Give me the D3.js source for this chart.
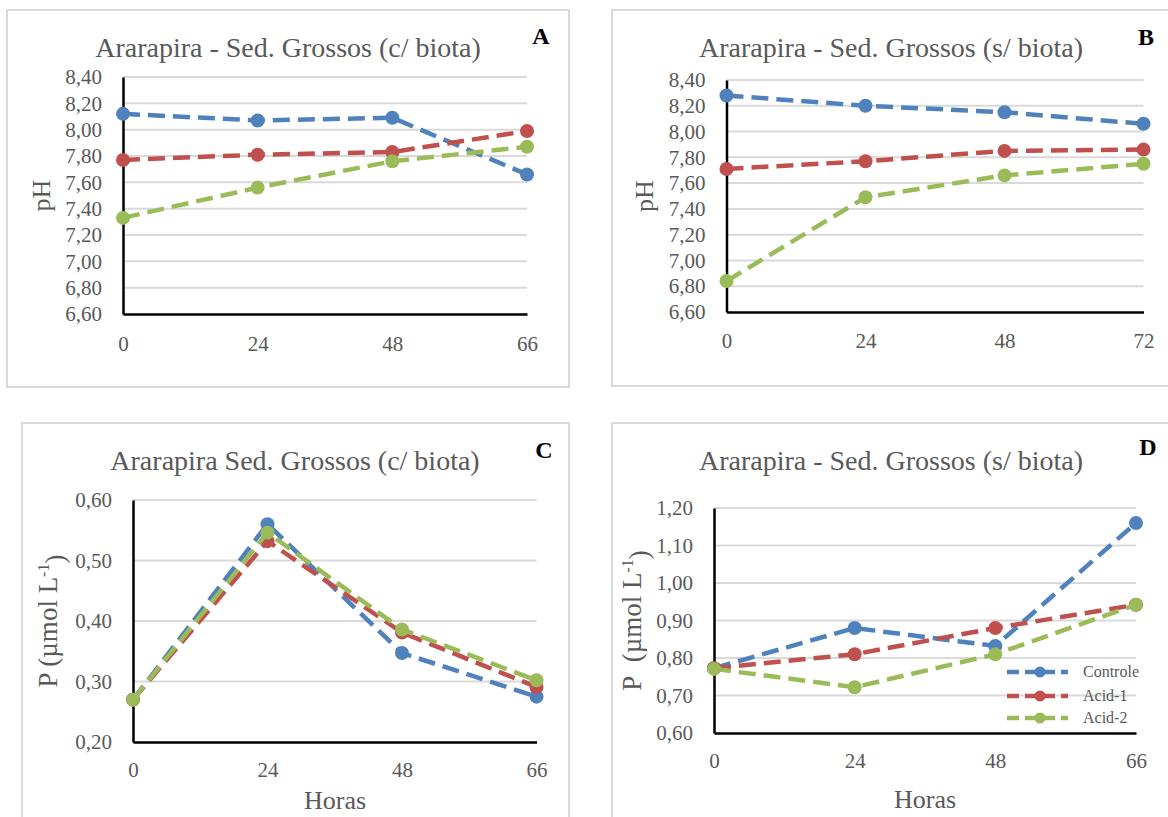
<!DOCTYPE html>
<html>
<head>
<meta charset="utf-8">
<script src="https://cdn.jsdelivr.net/npm/d3@7"></script>
<style>
  html, body { margin: 0; padding: 0; background: #fff; }
  svg { display: block; }
  text { font-family: "Liberation Serif", "Times New Roman", serif; }
</style>
</head>
<body>
<svg id="chart" width="1168" height="817"></svg>
<script>
// ---- data ----
const seriesNames = ["Controle", "Acid-1", "Acid-2"];
const seriesColors = ["#4F81BD", "#C0504D", "#9BBB59"];

// pH, with biota (A)
const hoursA = ["0", "24", "48", "66"];
const controleA = [8.12, 8.07, 8.09, 7.66];
const acid1A = [7.77, 7.81, 7.83, 7.99];
const acid2A = [7.33, 7.56, 7.76, 7.87];

// pH, without biota (B)
const hoursB = ["0", "24", "48", "72"];
const controleB = [8.28, 8.20, 8.15, 8.06];
const acid1B = [7.71, 7.77, 7.85, 7.86];
const acid2B = [6.84, 7.49, 7.66, 7.75];

// P, with biota (C)
const hoursC = ["0", "24", "48", "66"];
const controleC = [0.27, 0.56, 0.347, 0.275];
const acid1C = [0.27, 0.532, 0.381, 0.291];
const acid2C = [0.27, 0.546, 0.386, 0.302];

// P, without biota (D)
const hoursD = ["0", "24", "48", "66"];
const controleD = [0.773, 0.88, 0.832, 1.16];
const acid1D = [0.773, 0.81, 0.88, 0.942];
const acid2D = [0.771, 0.722, 0.81, 0.942];

// y ticks
const ticksPH = [6.6, 6.8, 7.0, 7.2, 7.4, 7.6, 7.8, 8.0, 8.2, 8.4];
const ticksPC = [0.2, 0.3, 0.4, 0.5, 0.6];
const ticksPD = [0.6, 0.7, 0.8, 0.9, 1.0, 1.1, 1.2];

const titles = [
  "Ararapira - Sed. Grossos (c/ biota)",
  "Ararapira - Sed. Grossos (s/ biota)",
  "Ararapira Sed. Grossos (c/ biota)",
  "Ararapira - Sed. Grossos (s/ biota)"
];
const letters = ["A", "B", "C", "D"];

// ---- layout ----
const panels = [
  { frame: [7, 10, 562, 377], plot: [123, 77, 527, 314], hours: hoursA,
    series: [controleA, acid1A, acid2A], ticks: ticksPH, yLabel: "pH",
    title: titles[0], titleX: 288, titleY: 57, letter: letters[0], letterX: 541, letterY: 44,
    yLabelX: 41, xTickY: 351, horas: false, legend: false },
  { frame: [612, 10, 560, 376], plot: [726.5, 80, 1143.5, 312], hours: hoursB,
    series: [controleB, acid1B, acid2B], ticks: ticksPH, yLabel: "pH",
    title: titles[1], titleX: 891, titleY: 57, letter: letters[1], letterX: 1146, letterY: 45,
    yLabelX: 644, xTickY: 348, horas: false, legend: false },
  { frame: [22, 423, 547, 400], plot: [133, 500, 536.5, 742], hours: hoursC,
    series: [controleC, acid1C, acid2C], ticks: ticksPC, yLabel: "P",
    title: titles[2], titleX: 295, titleY: 470, letter: letters[2], letterX: 544, letterY: 458,
    yLabelX: 48, xTickY: 777, horas: true, horasX: 335, horasY: 809, legend: false },
  { frame: [612, 423, 560, 400], plot: [714, 508, 1136, 733], hours: hoursD,
    series: [controleD, acid1D, acid2D], ticks: ticksPD, yLabel: "P",
    title: titles[3], titleX: 891, titleY: 470, letter: letters[3], letterX: 1148, letterY: 455,
    yLabelX: 632, xTickY: 768, horas: true, horasX: 925, horasY: 808, legend: true }
];

const svg = d3.select("#chart");
const grey = "#595959";
const commaFmt = v => d3.format(".2f")(v).replace(".", ",");

panels.forEach(p => {
  const g = svg.append("g");
  const [fx, fy, fw, fh] = p.frame;
  g.append("rect").attr("x", fx).attr("y", fy).attr("width", fw).attr("height", fh)
    .attr("fill", "#fff").attr("stroke", "#d9d9d9").attr("stroke-width", 2);

  const [x0, y0, x1, y1] = p.plot;
  const x = d3.scalePoint().domain(p.hours).range([x0, x1]).padding(0);
  const y = d3.scaleLinear().domain([p.ticks[0], p.ticks[p.ticks.length - 1]]).range([y1, y0]);

  // gridlines
  g.append("g").selectAll("line").data(p.ticks.slice(1)).join("line")
    .attr("x1", x0).attr("x2", x1)
    .attr("y1", d => y(d)).attr("y2", d => y(d))
    .attr("stroke", "#d9d9d9").attr("stroke-width", 2);

  // y axis labels
  const yAxis = d3.axisLeft(y).tickValues(p.ticks).tickFormat(commaFmt).tickSize(0).tickPadding(21);
  const ya = g.append("g").attr("transform", `translate(${x0},0)`).call(yAxis);
  ya.select(".domain").attr("stroke", "#000").attr("stroke-width", 2.5);
  ya.selectAll("text").attr("fill", grey).style("font-size", "21px")
    .style("font-family", "'Liberation Serif', serif");

  // x axis labels
  const xAxis = d3.axisBottom(x).tickSize(0).tickPadding(0);
  const xa = g.append("g").attr("transform", `translate(0,${y1})`).call(xAxis);
  xa.select(".domain").attr("stroke", "#000").attr("stroke-width", 2.5);
  xa.selectAll("text").attr("fill", grey).style("font-size", "21px")
    .style("font-family", "'Liberation Serif', serif")
    .attr("dy", null).attr("y", p.xTickY - y1);

  // title and panel letter
  g.append("text").attr("x", p.titleX).attr("y", p.titleY).attr("text-anchor", "middle")
    .attr("fill", grey).style("font-size", "28px").text(p.title);
  g.append("text").attr("x", p.letterX).attr("y", p.letterY).attr("text-anchor", "middle")
    .attr("fill", "#000").style("font-size", "24px").style("font-weight", "bold").text(p.letter);

  // y axis title
  const yt = g.append("text")
    .attr("transform", `translate(${p.yLabelX},${(y0 + y1) / 2}) rotate(-90)`)
    .attr("text-anchor", "middle").attr("dy", "0.35em")
    .attr("fill", grey);
  if (p.yLabel === "pH") {
    yt.style("font-size", "26px").text("pH");
  } else {
    yt.style("font-size", "27px");
    yt.append("tspan").text(p.legend ? "P\u00a0\u00a0(µmol L" : "P (µmol L");
    yt.append("tspan").attr("dy", "-0.55em").style("font-size", "16px").text("-1");
    yt.append("tspan").attr("dy", "0.55em").text(")");
  }

  if (p.horas) {
    g.append("text").attr("x", p.horasX).attr("y", p.horasY).attr("text-anchor", "middle")
      .attr("fill", grey).style("font-size", "26px").text("Horas");
  }

  // series lines and markers
  const line = d3.line().x((d, i) => x(p.hours[i])).y(d => y(d));
  p.series.forEach((vals, si) => {
    g.append("path").datum(vals).attr("d", line)
      .attr("fill", "none").attr("stroke", seriesColors[si])
      .attr("stroke-width", 4.5).attr("stroke-dasharray", "17,8");
    g.append("g").selectAll("circle").data(vals).join("circle")
      .attr("cx", (d, i) => x(p.hours[i])).attr("cy", d => y(d))
      .attr("r", 7).attr("fill", seriesColors[si]);
  });

  if (p.legend) {
    const rowsY = [672, 696, 718];
    const lg = g.append("g");
    seriesNames.forEach((name, si) => {
      const ry = rowsY[si];
      lg.append("line").attr("x1", 1007).attr("x2", 1068).attr("y1", ry).attr("y2", ry)
        .attr("stroke", seriesColors[si]).attr("stroke-width", 4.5).attr("stroke-dasharray", "12,6");
      lg.append("circle").attr("cx", 1040).attr("cy", ry).attr("r", 5.5).attr("fill", seriesColors[si]);
      lg.append("text").attr("x", 1083).attr("y", ry + 5).attr("fill", grey)
        .style("font-size", "16px").text(name);
    });
  }
});
</script>
</body>
</html>
